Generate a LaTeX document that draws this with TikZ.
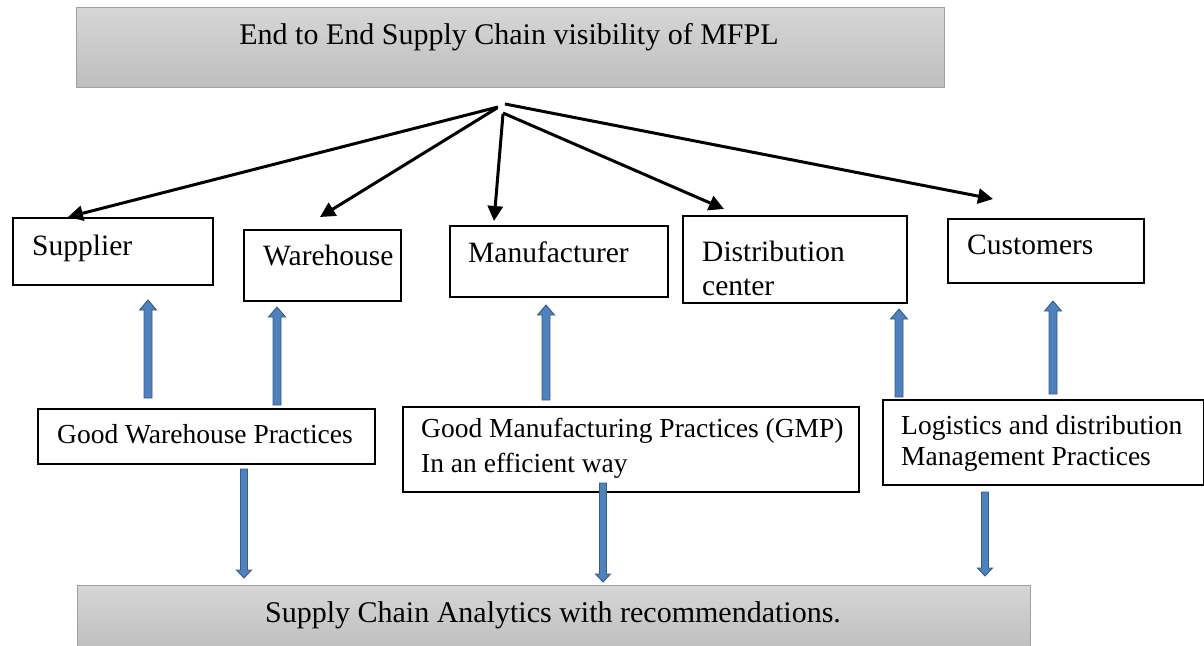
\documentclass[tikz,border=0pt]{standalone}
\usepackage{fontspec}
\setmainfont{Liberation Serif}
\usetikzlibrary{arrows.meta,calc}

\definecolor{shadetop}{RGB}{214,214,214}
\definecolor{shadebot}{RGB}{190,190,190}
\definecolor{shadeedge}{RGB}{160,160,160}
\definecolor{blockfill}{RGB}{79,129,189}
\definecolor{blockedge}{RGB}{54,92,140}

% vertical block arrows (tail, tip)
\newcommand\blockup[2]{%
  \path[blockarrow] let \p1=(#1), \p2=(#2) in
    (\x1-4pt,\y1) -- (\x1-4pt,\y2-10pt) -- (\x1-8.5pt,\y2-10pt) -- (\x2,\y2)
    -- (\x1+8.5pt,\y2-10pt) -- (\x1+4pt,\y2-10pt) -- (\x1+4pt,\y1) -- cycle;}
\newcommand\blockdown[2]{%
  \path[blockarrow] let \p1=(#1), \p2=(#2) in
    (\x1-3.5pt,\y1) -- (\x1-3.5pt,\y2+8pt) -- (\x1-7.5pt,\y2+8pt) -- (\x2,\y2)
    -- (\x1+7.5pt,\y2+8pt) -- (\x1+3.5pt,\y2+8pt) -- (\x1+3.5pt,\y1) -- cycle;}

\begin{document}
\begin{tikzpicture}[x=1pt,y=-1pt,
  banner/.style={draw=shadeedge, line width=1pt, top color=shadetop,
    bottom color=shadebot, anchor=north west, inner sep=0pt},
  stage/.style={draw=black, line width=1.5pt, fill=white, anchor=north west, inner sep=0pt},
  headtext/.style={anchor=base, inner sep=0pt, font=\fontsize{30}{36}\selectfont},
  rowtext/.style={anchor=base west, inner sep=0pt, align=left,
    font=\fontsize{29.5}{34}\selectfont},
  midtext/.style={anchor=base west, inner sep=0pt, align=left,
    font=\fontsize{27.5}{35}\selectfont},
  flow/.style={line width=3pt, -{Triangle[length=15pt,width=15pt]}},
  blockarrow/.style={fill=blockfill, draw=blockedge, line width=0.9pt}]

\useasboundingbox (0,0) rectangle (1204,645);

% title and result banners
\node[banner, minimum width=868, minimum height=80] (title) at (76,7) {};
\node[headtext] (titleT) at ($(title.north west)+(433,37)$)
  {End to End Supply Chain visibility of MFPL};
\node[banner, minimum width=953, minimum height=66] (result) at (77,585) {};
\node[headtext] (resultT) at ($(result.north west)+(476,37)$)
  {Supply Chain Analytics with recommendations.};

% supply chain stages (multi-line labels are placed by their last baseline)
\node[stage, minimum width=200, minimum height=67] (sup) at (12,217) {};
\node[rowtext] (supT) at ($(sup.north west)+(20,38)$) {Supplier};
\node[stage, minimum width=157, minimum height=71] (wh) at (243,229) {};
\node[rowtext] (whT) at ($(wh.north west)+(20,36)$) {Warehouse};
\node[stage, minimum width=218, minimum height=71] (man) at (449,225) {};
\node[rowtext] (manT) at ($(man.north west)+(19,37)$) {Manufacturer};
\node[stage, minimum width=224, minimum height=87] (dc) at (682,215) {};
\node[rowtext] (dcT) at ($(dc.north west)+(20,80)$) {Distribution\\center};
\node[stage, minimum width=196, minimum height=64] (cus) at (947,218) {};
\node[rowtext] (cusT) at ($(cus.north west)+(20,36)$) {Customers};

% practices
\node[stage, minimum width=337, minimum height=55] (gwp) at (37,408) {};
\node[midtext] (gwpT) at ($(gwp.north west)+(20,35)$) {Good Warehouse Practices};
\node[stage, minimum width=456, minimum height=85] (gmp) at (402,406) {};
\node[midtext] (gmpT) at ($(gmp.north west)+(19,66)$)
  {Good Manufacturing Practices (GMP)\\In an efficient way};
\node[stage, minimum width=321, minimum height=85] (ldm) at (882,399) {};
\node[midtext, font=\fontsize{27.5}{31}\selectfont] (ldmT) at ($(ldm.north west)+(19,66)$)
  {Logistics and distribution\\Management Practices};

% visibility fan from the title
\coordinate (hubA) at (498,107);
\coordinate (hubB) at (497,108);
\coordinate (hubC) at (503,114);
\coordinate (hubD) at (503,113);
\coordinate (hubE) at (505,104);
\coordinate (tipSup) at ($(sup.north west)+(56,0)$);
\coordinate (tipWh)  at ($(wh.north west)+(77,-12)$);
\coordinate (tipMan) at ($(man.north west)+(45,-4)$);
\coordinate (tipDc)  at ($(dc.north west)+(42,-6)$);
\coordinate (tipCus) at ($(cus.north west)+(46,-19)$);
\draw[flow] (hubA) -- (tipSup);
\draw[flow] (hubB) -- (tipWh);
\draw[flow] (hubC) -- (tipMan);
\draw[flow] (hubD) -- (tipDc);
\draw[flow] (hubE) -- (tipCus);

% practices feeding the stages
\coordinate (upA0) at (148,398); \coordinate (upA1) at (148,300);
\coordinate (upB0) at (277,405); \coordinate (upB1) at (277,307);
\coordinate (upC0) at (546,400); \coordinate (upC1) at (546,305);
\coordinate (upD0) at (899,397); \coordinate (upD1) at (899,309);
\coordinate (upE0) at (1053,394); \coordinate (upE1) at (1053,301);
\blockup{upA0}{upA1}
\blockup{upB0}{upB1}
\blockup{upC0}{upC1}
\blockup{upD0}{upD1}
\blockup{upE0}{upE1}

% practices feeding the analytics
\coordinate (dnA0) at (244,469); \coordinate (dnA1) at (244,578);
\coordinate (dnB0) at (603,483); \coordinate (dnB1) at (603,582);
\coordinate (dnC0) at (985,492); \coordinate (dnC1) at (985,576);
\blockdown{dnA0}{dnA1}
\blockdown{dnB0}{dnB1}
\blockdown{dnC0}{dnC1}
\end{tikzpicture}
\end{document}
